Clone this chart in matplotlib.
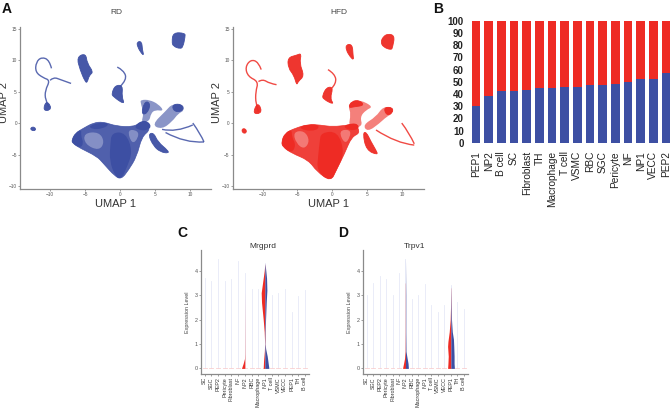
"""Four panel figure: UMAP clouds (A), stacked bars (B), split violins (C, D)."""
import matplotlib
matplotlib.use("Agg")
import matplotlib.pyplot as plt
from matplotlib.patches import PathPatch
from matplotlib.path import Path

plt.rcParams["font.family"] = ["Liberation Sans", "DejaVu Sans"]

W, H = 672, 409
BLUE = "#3d4fa3"
RED = "#ee2b24"
GREY = "#8a8a8a"

# --- panel B
bar_labels = ["PEP1", "NP2", "B cell", "SC", "Fibroblast", "TH", "Macrophage", "T cell",
              "VSMC", "RBC", "SGC", "Pericyte", "NF", "NP1", "VECC", "PEP2"]
rd_share = [30, 38, 42, 42, 43.5, 45, 45.2, 45.5, 46, 47, 47.2, 48, 50, 52, 52, 57]

# --- panel A, outlines (UMAP units)
rd_body = [(-6.9, -2.7), (-6.4, -1.6), (-5.2, -0.8), (-3.8, 0.05), (-2.4, 0.2), (-0.5, -0.5),
           (1.9, -0.6), (3.1, 0.2), (3.8, -0.3), (4.3, -1.1), (3.1, -2.2), (2.4, -5.3),
           (1.2, -7.5), (0.2, -8.9), (-0.7, -8.5), (-2.4, -6.4), (-3.3, -5.3), (-5.7, -4.0),
           (-6.8, -3.2)]
rd_core = [[(-6.9, -2.7), (-6.4, -1.6), (-5.5, -1.0), (-5.6, -2.0), (-5.2, -3.2), (-5.7, -4.0), (-6.8, -3.2)],
           [(-4.5, -0.4), (-2.4, 0.2), (-1.5, -0.2), (-2.5, -0.9), (-4, -1)],
           [(-1.2, -1.5), (0.8, -1.5), (1.8, -4.5), (1, -7), (0.2, -8.9), (-0.7, -8.5), (-1.5, -6), (-1.4, -3.5)],
           [(2, -0.6), (3, 0.4), (4, 0.3), (4.5, -0.6), (3.8, -1.2), (2.7, -1.1)]]
rd_pale = [[(-5.2, -1.6), (-3, -1.4), (-2.2, -3), (-3, -4.4), (-5, -3.4)],
           [(1, -1), (2.6, -1.2), (2.6, -2.4), (1.7, -3.4)]]
rd_sparse = [[(3.0, 0.0), (3.4, 1.5), (2.9, 3.3), (3.0, 3.7), (4.2, 3.7), (5.5, 3.0), (6.3, 1.9),
              (5.0, 2.1), (4.4, 1.5), (4.2, 0.3)],
             [(4.5, -0.3), (6.6, 2), (7.4, 3), (9, 3), (9.2, 2), (8.3, 1.5), (7.5, 0.3), (6, -1)]]
rd_solid = [[(4.8, -1.5), (5.4, -3), (6.9, -4.4), (6.9, -4.8), (5.8, -4.6), (4.8, -3.7), (4, -1.8)],
            [(7.6, 3), (8.8, 3), (9.1, 2.1), (8.2, 1.7), (7.5, 2.2)],
            [(3, 1.5), (3.6, 3.6), (4.4, 3), (3.8, 1.4)],
            [(7.6, 14.4), (9.3, 14.3), (9.3, 13.7), (9, 12.1), (8.6, 11.8), (7.6, 12.2), (7.4, 12.9)],
            [(2.4, 12.9), (3.1, 13), (3.2, 11.6), (3.4, 10.8), (3.1, 11), (2.5, 12.1)],
            [(-6.2, 10.5), (-4.9, 11.1), (-4.7, 9.5), (-3.8, 8.1), (-4.4, 7.6), (-4.7, 6.4), (-5, 6.6), (-5.7, 8.4)],
            [(-0.7, 6), (0.4, 6), (0.24, 4.2), (0.7, 2.9), (-1, 4.2), (-1.2, 4.7)],
            [(-11, 2.0), (-10, 2.0), (-9.9, 2.8), (-10.6, 3.5)],
            [(-12.8, -0.7), (-12.2, -0.6), (-12.0, -1.2), (-12.7, -1.2)]]
rd_lines = [[(-9.8, 8.7), (-10.1, 10), (-11.2, 10.5), (-12, 9.7), (-12.1, 8.1), (-11, 7.2), (-10, 6.8),
             (-10.7, 5.2), (-10.7, 3.7), (-10.2, 2.6)],
            [(-10, 6.8), (-9.5, 7.3), (-8.5, 6.9), (-7.5, 6.5), (-7, 6.3)],
            [(-0.4, 8.9), (0.5, 8.4), (1, 6.9), (0, 5.8)],
            [(6, -1), (8, -1.5), (10.4, -0.3)],
            [(6.5, -1.5), (9.3, -3.2), (12, -3)],
            [(10.4, 0), (11.5, -1.7), (12, -3)]]

hfd_body = [(-7.3, -3), (-6.8, -1.6), (-5.3, -0.8), (-3.4, -0.2), (-1.8, -0.3), (0.1, -0.6), (2.3, -0.3),
            (3.5, -0.3), (4, -1.6), (2.8, -2.2), (1.8, -4.8), (0.6, -7.5), (-0.2, -9.3), (-2.2, -7.7),
            (-3.4, -5.9), (-5.8, -4.8), (-7.1, -3.8)]
hfd_core = [[(-7.3, -3), (-6.8, -1.6), (-5.8, -1.0), (-5.8, -2.2), (-5.2, -3.5), (-5.8, -4.8), (-7.1, -3.8)],
            [(-4.8, -0.6), (-3.4, -0.2), (-1.8, -0.3), (-2.2, -1.2), (-4, -1.2)],
            [(-1.6, -1.5), (0.8, -1.3), (1.8, -4.8), (0.6, -7.5), (-0.2, -9.3), (-2.2, -7.7), (-2, -5), (-1.8, -3)],
            [(1.5, -0.5), (2.8, 0), (3.8, -0.2), (3.8, -1), (2.5, -1.2)]]
hfd_pale = [[(-5.6, -1.4), (-4, -1.2), (-3.2, -2.8), (-4, -4.2), (-5.2, -3.2)],
            [(0.9, -1.2), (2.6, -1), (2.6, -2.2), (1.8, -3.4)]]
hfd_sparse = [[(2.3, -0.8), (2.7, 1.5), (2.3, 2.6), (2.8, 3.5), (4, 3.7), (5.9, 2.6), (4.9, 2.1), (4, 1), (4.4, -0.6)],
              [(4.4, -0.3), (6.3, 1), (7.3, 2.6), (8.7, 2.5), (8.7, 1.5), (7.8, 1), (6.8, -0.05), (5.1, -1.4)]]
hfd_solid = [[(4.4, -1.6), (4.9, -4.3), (6.6, -5.1), (6.3, -4.3), (5.6, -3), (4.9, -1.4)],
             [(7.4, 2.5), (8.7, 2.5), (8.7, 1.6), (7.8, 1.2)],
             [(2.3, 2.4), (2.8, 3.5), (4, 3.6), (4.6, 2.8), (3.2, 2.6)],
             [(7.3, 13.7), (8, 14.2), (9, 13.9), (8.7, 12.1), (8.5, 11.6), (7.3, 12.1), (7, 12.9)],
             [(2, 12.5), (2.9, 12.5), (3, 10.8), (3.1, 10), (2.6, 10.5), (2, 11.6)],
             [(-6.4, 10.4), (-5.1, 10.8), (-4.4, 11.1), (-4.7, 9.5), (-4, 7.5), (-4.9, 6.6), (-5.1, 6), (-5.5, 7.6), (-6.3, 8.7)],
             [(-0.8, 5.7), (0.15, 5.7), (-0.3, 3.9), (0.3, 2.9), (-1.3, 3.8), (-1.4, 4.4)],
             [(-11.4, 1.5), (-10.3, 1.5), (-10.2, 2.4), (-10.8, 3.2)],
             [(-13, -0.9), (-12.4, -0.9), (-12.3, -1.6), (-12.9, -1.6)]]
hfd_lines = [[(-10.2, 8.5), (-10.6, 9.7), (-11.7, 10.1), (-12.5, 8.9), (-12.1, 7.4), (-10.6, 6.6), (-11, 5),
              (-11, 3.1), (-10.6, 1.8)],
             [(-10.6, 6.6), (-10, 7), (-9, 6.3), (-8, 6.1)],
             [(-0.6, 8.5), (0.4, 7.8), (0.6, 6.3), (-0.1, 5.5)],
             [(6.8, -0.3), (9, -0.8)],
             [(6.3, -1.1), (9.2, -3.2), (11.8, -3.5)],
             [(10, 0), (11.1, -1.6), (11.8, -3.3)],
             [(10, 0), (9.2, -1.6)]]

# --- panels C and D
violin_cats = ["SC", "SGC", "PEP2", "Pericyte", "Fibroblast", "NF", "NP2", "RBC",
               "Macrophage", "NP1", "T cell", "VSMC", "VECC", "PEP1", "TH", "B cell"]
mrgprd_top = [3.7, 3.6, 4.5, 3.6, 3.65, 4.4, 3.9, 3.25, 3.25, 4.3, 3.0, 3.1, 3.25, 2.3, 2.95, 3.2]
trpv1_top = [3.0, 3.5, 3.8, 3.65, 3.0, 3.9, 4.5, 2.85, 3.0, 3.45, 2.6, 2.3, 2.6, 3.4, 2.7, 2.45]

mrgprd_np2_y = [0, 0.2, 0.4, 0.6, 3.2]
mrgprd_np2_red = [0.5, 0.25, 0.05, 0.03, 0.0]
mrgprd_np1_red_y = [0, 0.3, 0.7, 1, 1.5, 2, 2.7, 3.1, 3.5, 4, 4.3]
mrgprd_np1_red = [0.25, 0.2, 0.08, 0.03, 0.1, 0.25, 0.5, 0.55, 0.35, 0.1, 0]
mrgprd_np1_blue_y = [0, 0.2, 0.5, 0.8, 1, 1.5, 2, 2.7, 3.2, 3.7, 4.1, 4.3]
mrgprd_np1_blue = [0.6, 0.5, 0.35, 0.12, 0.03, 0.05, 0.1, 0.2, 0.3, 0.25, 0.1, 0]

trpv1_np2_red_y = [0, 0.2, 0.4, 0.7, 1.5, 3.5]
trpv1_np2_red = [0.45, 0.3, 0.15, 0.05, 0.03, 0.02]
trpv1_np2_blue_y = [0, 0.2, 0.5, 0.7, 1.5, 3, 4.5]
trpv1_np2_blue = [0.45, 0.4, 0.2, 0.08, 0.05, 0.05, 0]
trpv1_pep1_red_y = [0, 0.2, 0.5, 0.9, 1.1, 1.5, 2, 2.5, 3.3]
trpv1_pep1_red = [0.5, 0.45, 0.4, 0.5, 0.45, 0.25, 0.1, 0.05, 0.02]
trpv1_pep1_blue_y = [0, 0.2, 0.5, 0.9, 1.2, 1.5, 2, 2.6, 3.4]
trpv1_pep1_blue = [0.55, 0.5, 0.5, 0.45, 0.4, 0.22, 0.1, 0.05, 0]


def px_axes(left, top, right, bottom):
    return plt.gcf().add_axes([left / W, 1 - bottom / H, (right - left) / W, (bottom - top) / H])


def style_axes(ax, tick_size):
    ax.spines[["top", "right"]].set_visible(False)
    ax.spines[["left", "bottom"]].set_color(GREY)
    ax.spines[["left", "bottom"]].set_linewidth(0.9)
    ax.tick_params(length=1.2, width=0.4, labelsize=tick_size, labelcolor="#555555", color="#555555", pad=1)
    ax.patch.set_alpha(0)


def smooth_blob(points):
    # closed outline through the edge midpoints, so the corners come out round
    n = len(points)
    mid = lambda a, b: ((a[0] + b[0]) / 2, (a[1] + b[1]) / 2)
    verts = [mid(points[-1], points[0])]
    codes = [Path.MOVETO]
    for i in range(n):
        verts += [points[i], mid(points[i], points[(i + 1) % n])]
        codes += [Path.CURVE3, Path.CURVE3]
    return Path(verts, codes)


def smooth_line(points):
    mid = lambda a, b: ((a[0] + b[0]) / 2, (a[1] + b[1]) / 2)
    verts = [points[0]]
    codes = [Path.MOVETO]
    for i in range(1, len(points) - 1):
        end = mid(points[i], points[i + 1]) if i < len(points) - 2 else points[-1]
        verts += [points[i], end]
        codes += [Path.CURVE3, Path.CURVE3]
    return Path(verts, codes)


def draw_umap(ax, body, core, pale, sparse, solid, lines, color):
    ax.add_patch(PathPatch(smooth_blob(body), fc=color, ec=color, alpha=0.9, lw=0.5))
    for poly in core:
        ax.add_patch(PathPatch(smooth_blob(poly), fc=color, ec="none"))
    for poly in pale:
        ax.add_patch(PathPatch(smooth_blob(poly), fc="white", ec="none", alpha=0.3))
    for poly in sparse:
        ax.add_patch(PathPatch(smooth_blob(poly), fc=color, ec="none", alpha=0.6))
    for poly in solid:
        ax.add_patch(PathPatch(smooth_blob(poly), fc=color, ec=color, alpha=0.95, lw=0.6))
    for line in lines:
        ax.add_patch(PathPatch(smooth_line(line), fc="none", ec=color, lw=1.0, alpha=0.85))
    ax.set_xticks([-10, -5, 0, 5, 10])
    ax.set_yticks([-10, -5, 0, 5, 10, 15])
    ax.set_xlabel("UMAP 1", fontsize=8, color="#333333", labelpad=1.5)
    ax.set_ylabel("UMAP 2", fontsize=8, color="#333333")
    ax.yaxis.set_label_coords(-10.5 / 191, 0.53)
    style_axes(ax, 3.4)


def half_violin(ax, center, ys, widths, sign, color):
    ax.fill_betweenx(ys, center, [center + sign * w for w in widths], color=color, lw=0, zorder=3)


def draw_violins(ax, tops):
    for i, top in enumerate(tops):
        ax.plot([i, i], [0, top], color="#e6e9f7", lw=0.6, zorder=1)
        ax.plot([i - 0.3, i + 0.3], [0, 0], color="#f9d0d0", lw=0.6, zorder=1)
    ax.set_xlim(-0.6, len(tops) - 0.4)
    ax.set_ylim(-0.23, 4.85)
    ax.set_xticks(range(len(violin_cats)))
    ax.set_xticklabels(violin_cats, rotation=90)
    ax.set_yticks([0, 1, 2, 3, 4])
    ax.set_ylabel("Expression Level", fontsize=3.9, color="#444444", labelpad=3)
    style_axes(ax, 3.9)
    ax.tick_params(axis="x", labelcolor="#333333")


fig = plt.figure(figsize=(W / 100, H / 100), dpi=100)

# A
ax_rd = px_axes(20, 26.5, 211, 188.5)
draw_umap(ax_rd, rd_body, rd_core, rd_pale, rd_sparse, rd_solid, rd_lines, BLUE)
ax_rd.set_xlim(-14.3, 13)
ax_rd.set_ylim(-10.4, 15.35)

ax_hfd = px_axes(232.7, 26.5, 424, 188.5)
draw_umap(ax_hfd, hfd_body, hfd_core, hfd_pale, hfd_sparse, hfd_solid, hfd_lines, RED)
ax_hfd.set_xlim(-14.3, 13.2)
ax_hfd.set_ylim(-10.4, 15.35)

fig.text(116 / W, 1 - 12 / H, "RD", fontsize=6, color="#444444", ha="center", va="center")
fig.text(339 / W, 1 - 12 / H, "HFD", fontsize=6, color="#444444", ha="center", va="center")

# B
ax_bar = px_axes(468, 20.7, 674, 142.7)
xs = range(len(bar_labels))
hfd_share = [100 - v for v in rd_share]
ax_bar.bar(xs, rd_share, width=0.68, color=BLUE)
ax_bar.bar(xs, hfd_share, width=0.68, bottom=rd_share, color=RED)
ax_bar.set_ylim(0, 100)
ax_bar.set_xlim(-0.63, 15.63)
ax_bar.set_yticks(range(0, 101, 10))
ax_bar.set_xticks(list(xs))
ax_bar.set_xticklabels(bar_labels, rotation=90, fontsize=7.3, color="#222222")
for lab in ax_bar.get_yticklabels():
    lab.set_fontsize(7)
    lab.set_fontweight("bold")
    lab.set_color("#222222")
ax_bar.tick_params(length=0, pad=3)
ax_bar.tick_params(axis="x", pad=6)
for side in ax_bar.spines.values():
    side.set_visible(False)

# C
ax_c = px_axes(200.7, 250, 309, 374)
draw_violins(ax_c, mrgprd_top)
half_violin(ax_c, 6, mrgprd_np2_y, mrgprd_np2_red, -1, RED)
half_violin(ax_c, 9, mrgprd_np1_red_y, mrgprd_np1_red, -1, RED)
half_violin(ax_c, 9, mrgprd_np1_blue_y, mrgprd_np1_blue, 1, BLUE)
fig.text(263 / W, 1 - 246.5 / H, "Mrgprd", fontsize=6, color="#333333", ha="center", va="center")

# D
ax_d = px_axes(362.7, 250, 467.7, 374)
draw_violins(ax_d, trpv1_top)
half_violin(ax_d, 6, trpv1_np2_red_y, trpv1_np2_red, -1, RED)
half_violin(ax_d, 6, trpv1_np2_blue_y, trpv1_np2_blue, 1, BLUE)
half_violin(ax_d, 13, trpv1_pep1_red_y, trpv1_pep1_red, -1, RED)
half_violin(ax_d, 13, trpv1_pep1_blue_y, trpv1_pep1_blue, 1, BLUE)
fig.text(415 / W, 1 - 246.5 / H, "Trpv1", fontsize=6, color="#333333", ha="center", va="center")

# panel letters
for letter, x, y in [("A", 2, 9), ("B", 433, 9), ("C", 177, 233), ("D", 338, 233)]:
    fig.text(x / W, 1 - y / H, letter, fontsize=10, fontweight="bold", color="#111111", va="center")

fig.savefig("out.png", dpi=100)
